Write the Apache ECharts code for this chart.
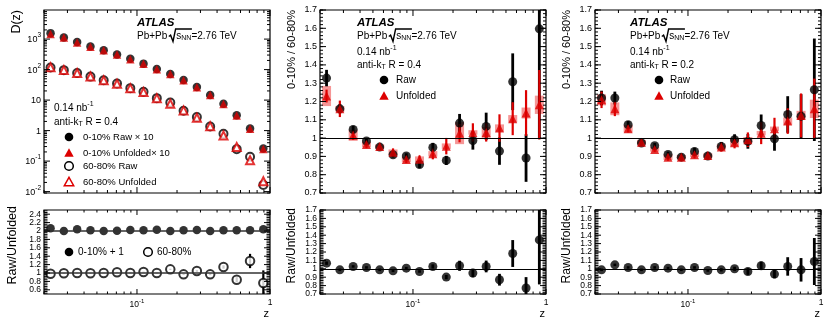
<!DOCTYPE html>
<html><head><meta charset="utf-8">
<script src="https://cdn.jsdelivr.net/npm/echarts@6/dist/echarts.min.js"></script>
<style>html,body{margin:0;padding:0;background:#fff}#c{width:830px;height:328px}</style>
</head><body><div id="c"></div>
<script>
// ---------- DATA ----------
const z = [0.0224,0.0282,0.0355,0.0447,0.0562,0.0708,0.0891,0.112,0.141,0.178,0.224,0.282,0.355,0.447,0.562,0.708,0.891];

// Left top: D(z), R = 0.4
const dRaw010 = [1570,1120,800,570,430,315,225,157,105,72,46,27,14.8,7.6,3.2,1.18,0.26];
const dUnf010 = [1480,1120,770,560,430,313,220,155,102,72,45,26.4,14.8,7.5,3.15,1.16,0.25];
const dRaw6080 = [117,96,77,59,45,35,24.7,18.7,11.6,8.3,4.46,2.77,1.36,0.785,0.247,0.138,0.0166];
const dUnf6080 = [119,97,77,59.5,45,34.4,24.7,18.3,11.6,7.6,4.6,2.64,1.4,0.69,0.29,0.107,0.0218];

// Left bottom: Raw/Unfolded
const ru010 = [2.063,2.0,2.04,2.016,2.0,2.008,2.024,2.016,2.032,2.0,2.016,2.024,2.0,2.016,2.016,2.016,2.04];
const ru6080 = [0.984,0.992,1.0,0.992,1.0,1.016,1.0,1.024,1.0,1.087,0.968,1.048,0.968,1.143,0.841,1.286,0.762];
const ru6080Err = [0.01,0.01,0.01,0.01,0.01,0.01,0.01,0.01,0.01,0.015,0.015,0.02,0.02,0.04,0.06,0.17,0.3];

// Middle top: 0-10% / 60-80%, R = 0.4
const cpR4Raw = [1.328,1.160,1.047,0.984,0.951,0.909,0.902,0.856,0.949,0.878,1.082,0.987,1.064,0.929,1.308,0.891,1.597];
const cpR4RawErr = [0.045,0.025,0.02,0.015,0.015,0.015,0.015,0.02,0.025,0.025,0.05,0.05,0.075,0.075,0.155,0.13,0.6];
const cpR4Unf = [1.230,1.160,1.015,0.965,0.954,0.923,0.883,0.885,0.914,0.956,1.027,1.031,1.031,1.055,1.106,1.137,1.182];
const cpR4UnfErr = [0.035,0.045,0.025,0.02,0.02,0.02,0.02,0.02,0.03,0.045,0.05,0.05,0.05,0.075,0.09,0.125,0.19];
const cpR4Sys = [0.055,0.015,0.03,0.015,0.012,0.015,0.015,0.015,0.015,0.015,0.06,0.012,0.03,0.02,0.02,0.03,0.05];

// Middle bottom: Raw/Unfolded, R = 0.4
const ruR4 = [1.067,0.988,1.028,1.016,0.988,0.976,1.008,0.968,1.028,0.901,1.036,0.949,1.028,0.870,1.182,0.771,1.344];
const ruR4Err = [0.02,0.015,0.015,0.015,0.015,0.015,0.015,0.015,0.025,0.025,0.06,0.05,0.07,0.07,0.16,0.13,0.53];

// Right top: 0-10% / 60-80%, R = 0.2
const cpR2Raw = [1.219,1.219,1.073,0.973,0.958,0.911,0.896,0.927,0.902,0.954,0.991,0.982,1.069,0.996,1.129,1.120,1.264];
const cpR2RawErr = [0.04,0.035,0.02,0.015,0.015,0.015,0.015,0.02,0.02,0.025,0.03,0.04,0.06,0.065,0.1,0.12,0.28];
const cpR2Unf = [1.209,1.160,1.051,0.978,0.938,0.896,0.896,0.909,0.905,0.951,0.974,0.991,1.027,1.051,1.093,1.124,1.160];
const cpR2UnfErr = [0.045,0.04,0.02,0.015,0.015,0.02,0.02,0.02,0.02,0.025,0.03,0.04,0.06,0.06,0.07,0.12,0.165];
const cpR2Sys = [0.03,0.035,0.02,0.012,0.012,0.015,0.012,0.012,0.012,0.015,0.02,0.015,0.012,0.012,0.02,0.025,0.05];

// Right bottom: Raw/Unfolded, R = 0.2
const ruR2 = [0.988,1.047,1.016,0.988,1.016,1.008,0.988,1.016,0.980,0.988,1.0,0.968,1.036,0.937,1.028,0.988,1.087];
const ruR2Err = [0.015,0.015,0.015,0.015,0.015,0.015,0.015,0.015,0.015,0.02,0.025,0.04,0.05,0.05,0.11,0.14,0.28];

// Tick values and labels
const xMajorTicks = [0.1, 1];
const xMinorTicks = [0.02,0.03,0.04,0.05,0.06,0.07,0.08,0.09,0.2,0.3,0.4,0.5,0.6,0.7,0.8,0.9];
const xTickLabels = [['10','-1'],['1','']];
const yLogTicks = [0.01,0.1,1,10,100,1000];
const yLogTickLabels = [['10','-2'],['10','-1'],['1',''],['10',''],['10','2'],['10','3']];
const yRatioTicks = [0.7,0.8,0.9,1,1.1,1.2,1.3,1.4,1.5,1.6,1.7];
const yRatioTickLabels = ['0.7','0.8','0.9','1','1.1','1.2','1.3','1.4','1.5','1.6','1.7'];
const yLeftRuTicks = [0.6,0.8,1,1.2,1.4,1.6,1.8,2,2.2,2.4];
const yLeftRuTickLabels = ['0.6','0.8','1','1.2','1.4','1.6','1.8','2','2.2','2.4'];

// ---------- HELPERS ----------
const FONT = '"Liberation Sans", Arial, sans-serif';
const RED = '#dd0000';
const ctx = document.createElement('canvas').getContext('2d');
function fontStr(size, weight, fstyle){ return (fstyle||'normal')+' '+(weight||'normal')+' '+size+'px '+FONT; }
function tw(t, size, weight, fstyle){ ctx.font = fontStr(size,weight,fstyle); return ctx.measureText(t).width; }
function textEl(x, y, t, size, o){
  o = o || {};
  const al = o.align || 'left';
  return {type:'text', x:x, y:y, silent:true, rotation:o.rotation||0,
    style:{text:t, font:fontStr(size,o.weight,o.fstyle), fill:o.fill||'#000',
      textAlign:al, align:al, textVerticalAlign:'middle', verticalAlign:'middle'}};
}
function runEls(x, y, pieces){
  const out=[]; let cx=x;
  pieces.forEach(p=>{
    if(p.gap){cx+=p.gap; return;}
    out.push(textEl(cx, y+(p.dy||0), p.t, p.s, p));
    cx += tw(p.t, p.s, p.weight, p.fstyle);
  });
  return {els:out, width:cx-x};
}
function energyLine(x, y){
  const a = runEls(x, y, [{t:'Pb+Pb', s:10}]);
  let cx = x + a.width + 1.5;
  const rx = cx; cx += 7.5;
  const b = runEls(cx, y, [{t:'s', s:10},{t:'NN', s:7, dy:2.5}]);
  const rad = {type:'polyline', silent:true, shape:{points:[[rx,y+0.5],[rx+1.8,y-0.8],[rx+4.2,y+5.5],[rx+6.8,y-7],[cx+b.width+0.5,y-7]]},
    style:{stroke:'#000', lineWidth:1.4, fill:'none'}};
  cx += b.width;
  const c = runEls(cx, y, [{t:'=2.76 TeV', s:10}]);
  return [...a.els, rad, ...b.els, ...c.els];
}
function annot(x, y0){
  return [
    textEl(x, y0, 'ATLAS', 11.5, {weight:'bold', fstyle:'italic'}),
    ...energyLine(x, y0+13),
  ];
}
function lumi(x, y){ return runEls(x, y, [{t:'0.14 nb', s:10},{t:'-1', s:7, dy:-3.5}]).els; }
function akt(x, y, R){ return runEls(x, y, [{t:'anti-k', s:10},{t:'T', s:7, dy:2.5},{t:' R = '+R, s:10}]).els; }
function circ(cx, cy, open){ return {type:'circle', silent:true, shape:{cx, cy, r:4.3}, style: open?{fill:'#fff', stroke:'#000', lineWidth:1.5}:{fill:'#000'}}; }
function tri(cx, cy, open){ return {type:'polygon', silent:true, shape:{points:[[cx,cy-4.7],[cx+4.7,cy+3.7],[cx-4.7,cy+3.7]]}, style: open?{fill:'#fff', stroke:RED, lineWidth:1.5}:{fill:RED}}; }

function pts(arr){ return z.map((v,i)=>[v, arr[i]]); }
function withErr(arr, err){ return z.map((v,i)=>[v, arr[i], err[i]]); }

function errSeries(gi, arr, err, color, width){
  return {type:'custom', xAxisIndex:gi, yAxisIndex:gi, clip:true, silent:true, encode:{x:0,y:1},
    data: withErr(arr, err),
    renderItem:(params, api)=>{
      const x=api.value(0), y=api.value(1), e=api.value(2);
      const p1=api.coord([x,y-e]), p2=api.coord([x,y+e]);
      return {type:'line', shape:{x1:p1[0],y1:p1[1],x2:p2[0],y2:p2[1]}, style:{stroke:color, lineWidth:width}};
    }};
}
function boxSeries(gi, arr, sys){
  return {type:'custom', xAxisIndex:gi, yAxisIndex:gi, clip:true, silent:true, encode:{x:0,y:1},
    data: withErr(arr, sys),
    renderItem:(params, api)=>{
      const x=api.value(0), y=api.value(1), e=api.value(2);
      const p1=api.coord([x,y+e]), p2=api.coord([x,y-e]);
      return {type:'rect', shape:{x:p1[0]-4.5, y:p1[1], width:9, height:Math.max(p2[1]-p1[1],1.5)},
        style:{fill:'rgba(240,80,80,0.6)'}};
    }};
}
function scat(gi, arr, symbol, color, size, extra){
  return Object.assign({type:'scatter', xAxisIndex:gi, yAxisIndex:gi, silent:true, symbol, symbolSize:size,
    itemStyle:{color, borderWidth: symbol.indexOf('empty')===0?1.5:0}, data: pts(arr)}, extra||{});
}
function refLine(gi, vals, color, width){
  return {type:'scatter', xAxisIndex:gi, yAxisIndex:gi, silent:true, data:[],
    markLine:{silent:true, symbol:['none','none'], label:{show:false}, animation:false,
      lineStyle:{color, width, type:'solid'}, data: vals.map(v=>({yAxis:v}))}};
}

function linMinor(min, max, step){ const o=[]; for(let v=min; v<=max+1e-9; v+=step) o.push(+v.toFixed(4)); return o; }
function logMinor(min, max){ const o=[]; for(let e=-3;e<=4;e++) for(let k=2;k<=9;k++){const v=k*Math.pow(10,e); if(v>min && v<max) o.push(v);} return o; }

function axisSeries(gi, cfg){
  return {type:'custom', xAxisIndex:gi, yAxisIndex:gi, clip:false, silent:true, z:10, encode:{x:0,y:1},
    data:[[0.1, cfg.yMid]],
    renderItem:(params, api)=>{
      const bl=api.coord([0.02,cfg.yMin]), tr=api.coord([1,cfg.yMax]);
      const L=bl[0], B=bl[1], R=tr[0], T=tr[1];
      const ch=[];
      const ln=(x1,y1,x2,y2)=>ch.push({type:'line', shape:{x1,y1,x2,y2}, style:{stroke:'#000', lineWidth:1}});
      xMajorTicks.forEach(v=>{const x=api.coord([v,cfg.yMin])[0]; ln(x,B,x,B-cfg.xMaj); ln(x,T,x,T+cfg.xMaj);});
      xMinorTicks.forEach(v=>{const x=api.coord([v,cfg.yMin])[0]; ln(x,B,x,B-cfg.xMin); ln(x,T,x,T+cfg.xMin);});
      cfg.yMajor.forEach(v=>{const y=api.coord([0.02,v])[1]; ln(L,y,L+cfg.yMaj,y); ln(R,y,R-cfg.yMaj,y);});
      cfg.yMinor.forEach(v=>{const y=api.coord([0.02,v])[1]; ln(L,y,L+cfg.yMinL,y); ln(R,y,R-cfg.yMinL,y);});
      cfg.yMajor.forEach((v,i)=>{
        const y=api.coord([0.02,v])[1];
        const lab=cfg.yLabels[i];
        if(Array.isArray(lab)){
          const sw = lab[1]? tw(lab[1], 6.5):0;
          ch.push(textEl(L-3-sw, y+0.5, lab[0], cfg.yFont, {align:'right'}));
          if(lab[1]) ch.push(textEl(L-3-sw, y-3.5, lab[1], 6.5));
        } else {
          ch.push(textEl(L-3, y, lab, cfg.yFont, {align:'right'}));
        }
      });
      if(cfg.xLabels){
        xMajorTicks.forEach((v,i)=>{
          const x=api.coord([v,cfg.yMin])[0];
          const lab=xTickLabels[i];
          if(lab[1]){
            const w0=tw(lab[0],8.5), w1=tw(lab[1],6);
            const sx=x-(w0+w1)/2;
            ch.push(textEl(sx, B+11, lab[0], 8.5));
            ch.push(textEl(sx+w0, B+7.5, lab[1], 6));
          } else {
            ch.push(textEl(x, B+8.5, lab[0], 8.5, {align:'center'}));
          }
        });
        ch.push(textEl(R-1, B+19.5, 'z', 11, {align:'right'}));
      }
      return {type:'group', children:ch};
    }};
}

// ---------- LAYOUT ----------
const GX = [44, 320, 595], GW = 226;
const grids = [];
GX.forEach(x=>{
  grids.push({left:x, top:10, width:GW, height:183});
  grids.push({left:x, top:210, width:GW, height:84});
});
grids.forEach(g=>{ g.show=true; g.borderColor='#000'; g.borderWidth=1.2; g.backgroundColor='transparent'; });

const yCfg = [
  {type:'log', min:0.009, max:9000},
  {type:'value', min:0.5, max:2.5},
  {type:'value', min:0.7, max:1.7},
  {type:'value', min:0.7, max:1.7},
  {type:'value', min:0.7, max:1.7},
  {type:'value', min:0.7, max:1.7},
];
const xAxes = grids.map((g,i)=>({type:'log', logBase:10, gridIndex:i, min:0.02, max:1, show:false}));
const yAxes = yCfg.map((c,i)=>Object.assign({gridIndex:i, show:false, splitLine:{show:false}}, c));

const ratioTop = {yMin:0.7, yMax:1.7, yMid:1, yMajor:yRatioTicks, yLabels:yRatioTickLabels, yMinor:linMinor(0.7,1.7,0.02),
  yMaj:6, yMinL:3, xMaj:6, xMin:3, yFont:9, xLabels:false};
const ratioBot = Object.assign({}, ratioTop, {yMaj:6, yMinL:3.5, xMaj:5, xMin:2.5, yFont:8.5, xLabels:true});

const series = [
  axisSeries(0, {yMin:0.009, yMax:9000, yMid:1, yMajor:yLogTicks, yLabels:yLogTickLabels, yMinor:logMinor(0.009,9000),
    yMaj:6, yMinL:3, xMaj:6, xMin:3, yFont:9, xLabels:false}),
  axisSeries(1, {yMin:0.5, yMax:2.5, yMid:1, yMajor:yLeftRuTicks, yLabels:yLeftRuTickLabels, yMinor:linMinor(0.52,2.48,0.04),
    yMaj:6, yMinL:3.5, xMaj:5, xMin:2.5, yFont:8.5, xLabels:true}),
  axisSeries(2, ratioTop), axisSeries(3, ratioBot),
  axisSeries(4, ratioTop), axisSeries(5, ratioBot),

  // left top
  scat(0, dRaw010, 'circle', '#000', 8.5),
  scat(0, dUnf010, 'triangle', RED, 8.5),
  scat(0, dRaw6080, 'emptyCircle', '#000', 8),
  scat(0, dUnf6080, 'emptyTriangle', RED, 8),

  // left bottom
  refLine(1, [1, 2], '#333', 1.5),
  scat(1, ru010, 'circle', '#000', 8.5),
  errSeries(1, ru6080, ru6080Err, '#000', 2.2),
  scat(1, ru6080, 'emptyCircle', '#000', 8.5),

  // middle top
  refLine(2, [1], '#000', 1.2),
  boxSeries(2, cpR4Unf, cpR4Sys),
  errSeries(2, cpR4Raw, cpR4RawErr, '#000', 2.8),
  scat(2, cpR4Raw, 'circle', '#000', 9),
  errSeries(2, cpR4Unf, cpR4UnfErr, RED, 2.2),
  scat(2, cpR4Unf, 'triangle', RED, 9),

  // middle bottom
  refLine(3, [1], '#000', 1.2),
  errSeries(3, ruR4, ruR4Err, '#000', 2.8),
  scat(3, ruR4, 'circle', '#000', 9),

  // right top
  refLine(4, [1], '#000', 1.2),
  boxSeries(4, cpR2Unf, cpR2Sys),
  errSeries(4, cpR2Raw, cpR2RawErr, '#000', 2.8),
  scat(4, cpR2Raw, 'circle', '#000', 9),
  errSeries(4, cpR2Unf, cpR2UnfErr, RED, 2.2),
  scat(4, cpR2Unf, 'triangle', RED, 9),

  // right bottom
  refLine(5, [1], '#000', 1.2),
  errSeries(5, ruR2, ruR2Err, '#000', 2.8),
  scat(5, ruR2, 'circle', '#000', 9),
];

// ---------- ANNOTATIONS ----------
const g = [];
g.push(textEl(17, 10, 'D(z)', 12.5, {align:'right', rotation:Math.PI/2}));
g.push(textEl(12.5, 206, 'Raw/Unfolded', 12.5, {align:'right', rotation:Math.PI/2}));
g.push(textEl(292, 10, '0-10% / 60-80%', 11, {align:'right', rotation:Math.PI/2}));
g.push(textEl(292, 208, 'Raw/Unfolded', 12, {align:'right', rotation:Math.PI/2}));
g.push(textEl(567, 10, '0-10% / 60-80%', 11, {align:'right', rotation:Math.PI/2}));
g.push(textEl(567, 208, 'Raw/Unfolded', 12, {align:'right', rotation:Math.PI/2}));

// left top
g.push(...annot(137, 23));
g.push(...lumi(54, 108));
g.push(...akt(54, 122, '0.4'));
g.push(circ(69, 137, false)); g.push(textEl(83, 137, '0-10% Raw × 10', 9.5));
g.push(tri(69, 153, false));  g.push(textEl(83, 153, '0-10% Unfolded× 10', 9.5));
g.push(circ(69, 166, true));  g.push(textEl(83, 166, '60-80% Raw', 9.5));
g.push(tri(69, 182, true));   g.push(textEl(83, 182, '60-80% Unfolded', 9.5));
// left bottom legend
g.push(circ(69, 252, false)); g.push(textEl(78, 252, '0-10% + 1', 10));
g.push(circ(148, 252, true)); g.push(textEl(157, 252, '60-80%', 10));

// middle top
g.push(...annot(357, 23));
g.push(...lumi(357, 52));
g.push(...akt(357, 65, '0.4'));
g.push(circ(384, 80, false)); g.push(textEl(396, 80, 'Raw', 10));
g.push(tri(384, 96, false));  g.push(textEl(396, 96, 'Unfolded', 10));

// right top
g.push(...annot(630, 23));
g.push(...lumi(630, 52));
g.push(...akt(630, 65, '0.2'));
g.push(circ(659, 80, false)); g.push(textEl(670, 80, 'Raw', 10));
g.push(tri(659, 96, false));  g.push(textEl(670, 96, 'Unfolded', 10));

const chart = echarts.init(document.getElementById('c'), null, {renderer:'canvas'});
chart.setOption({
  animation:false,
  backgroundColor:'#fff',
  grid: grids,
  xAxis: xAxes,
  yAxis: yAxes,
  series: series,
  graphic: {elements: g}
});
</script>
</body></html>
